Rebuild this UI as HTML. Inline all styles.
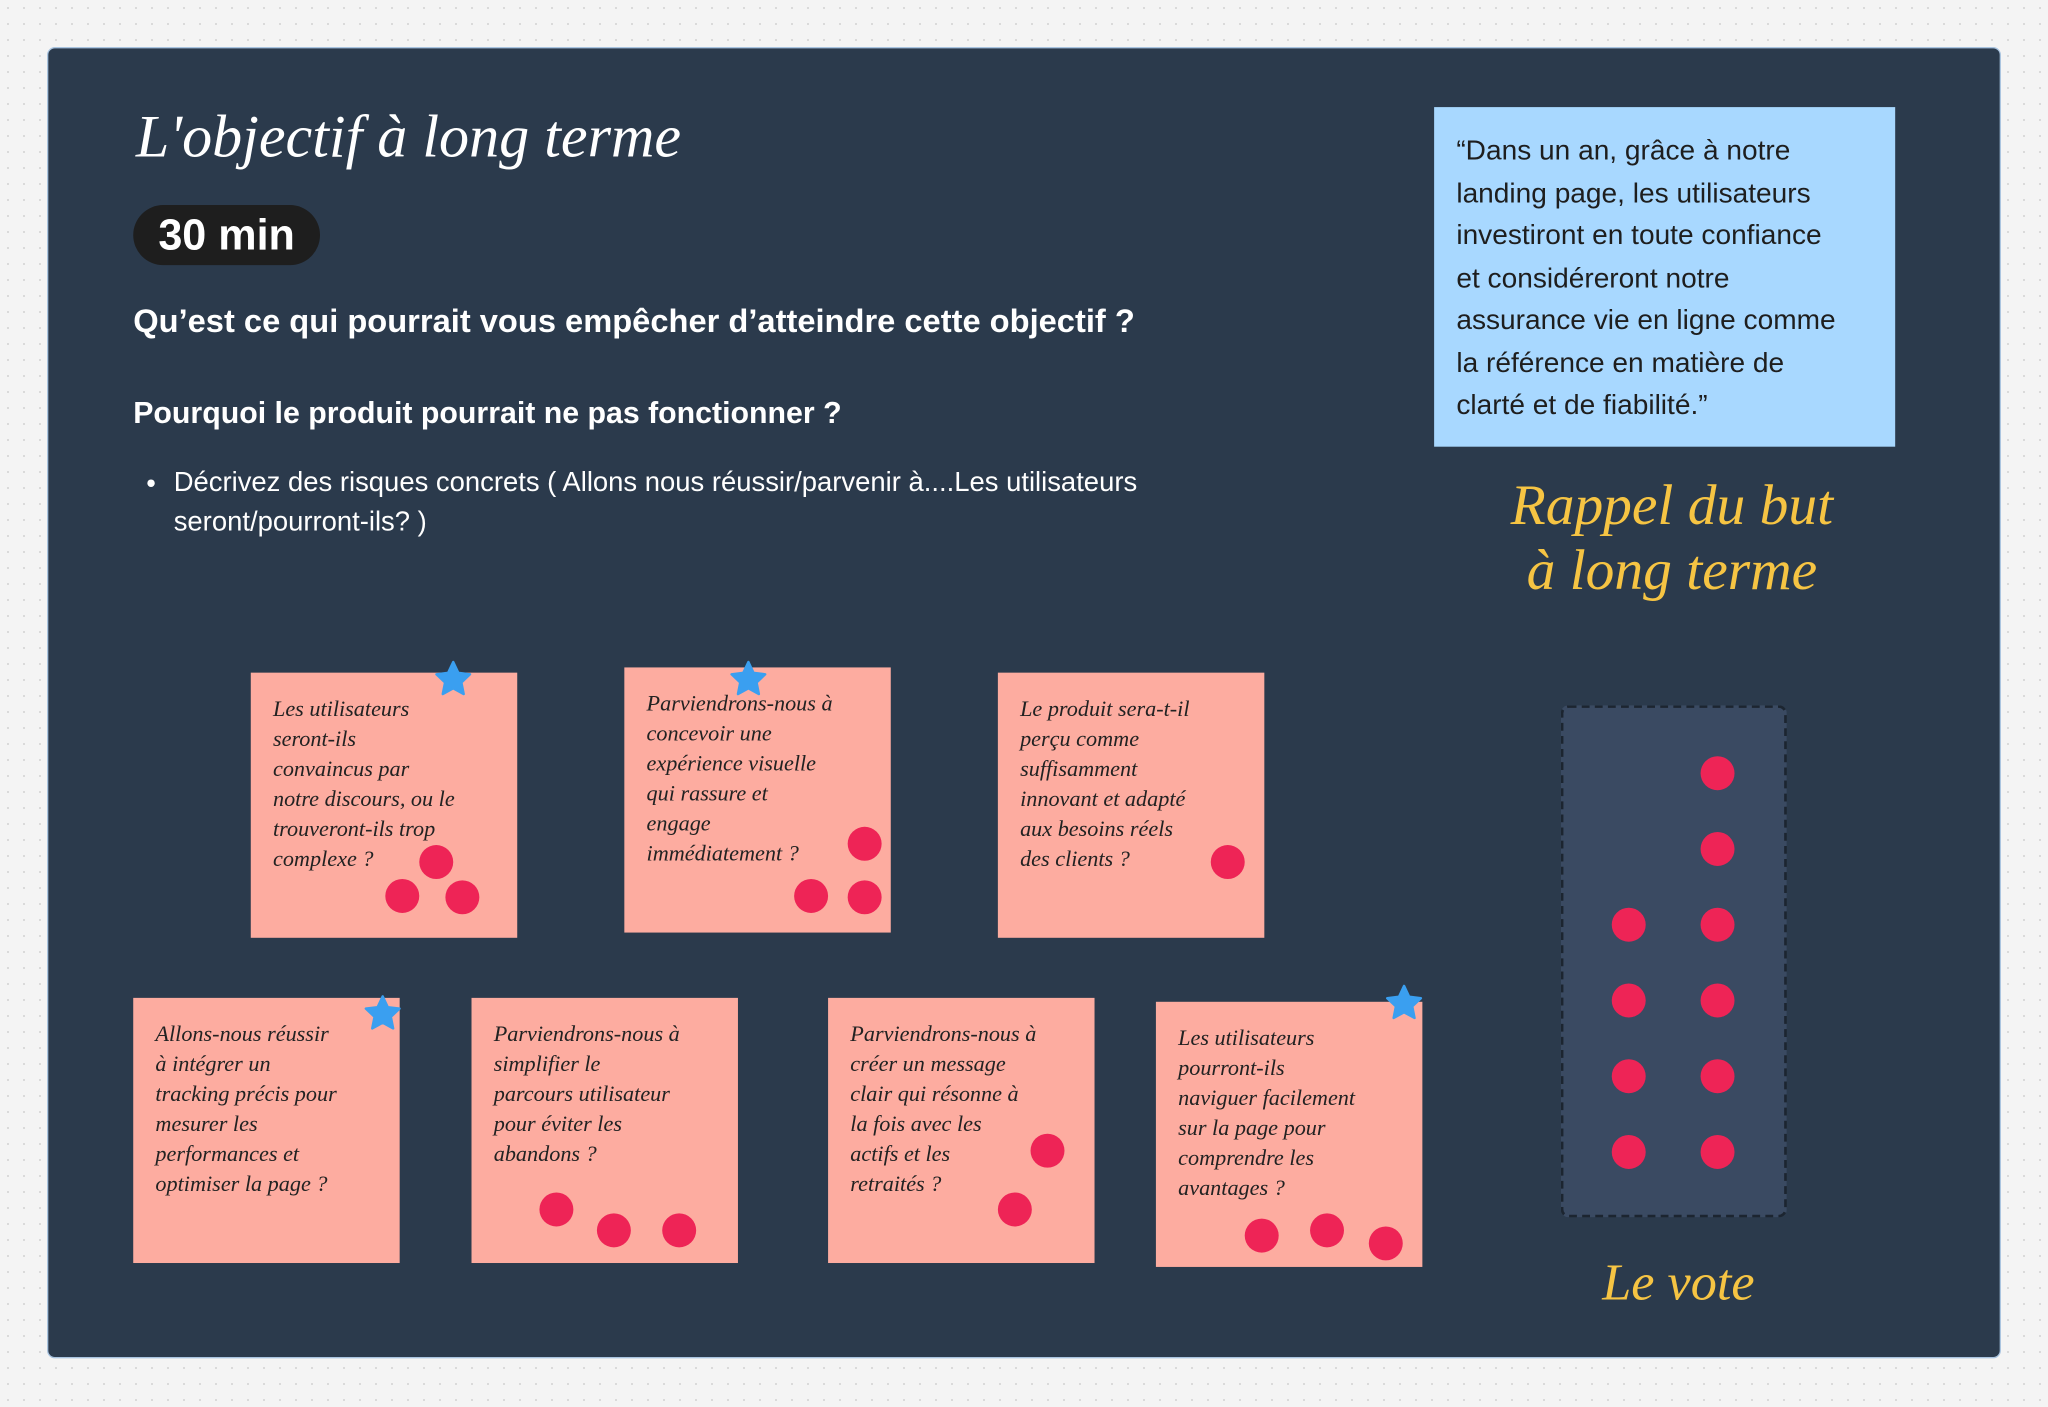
<!DOCTYPE html>
<html><head><meta charset="utf-8">
<style>
html,body{margin:0;padding:0;}
body{width:2048px;height:1407px;overflow:hidden;background:#f4f4f4;
background-image:radial-gradient(#d8d8d8 1px,transparent 1.2px);background-size:16px 16px;}
#s{position:absolute;left:0;top:0;width:1568px;height:1077px;transform:scale(1.30612);transform-origin:0 0;font-family:"Liberation Sans",sans-serif;}
.panel{position:absolute;left:36px;top:36px;width:1496px;height:1004px;background:#2b3a4c;border:1.5px solid #a9c4e0;border-radius:6px;box-sizing:border-box;}
.abs{position:absolute;}
.hand{font-family:"Liberation Serif",serif;font-style:italic;}
.st{position:absolute;width:204px;height:203px;background:#fdaca0;box-sizing:border-box;padding:16px 10px 16px 17px;color:#222;font-family:"Liberation Serif",serif;font-style:italic;font-size:17px;line-height:23px;white-space:nowrap;}
.d{position:absolute;width:26px;height:26px;border-radius:50%;background:#ee2456;margin:-13px 0 0 -13px;}
.star{position:absolute;width:30px;height:30px;margin:-15px 0 0 -15px;}
</style></head><body>
<div id="s">
<div class="panel"></div>
<div class="abs hand" style="left:104px;top:78px;font-size:46px;color:#fff;">L'objectif à long terme</div>
<div class="abs" style="left:102px;top:157px;width:143px;height:46px;border-radius:23px;background:#1e1e1e;color:#fff;font-weight:bold;font-size:33px;line-height:46px;text-align:center;">30 min</div>
<div class="abs" style="left:102px;top:232px;color:#fff;font-weight:bold;font-size:25px;white-space:nowrap;">Qu’est ce qui pourrait vous empêcher d’atteindre cette objectif ?</div>
<div class="abs" style="left:102px;top:303px;color:#fff;font-weight:bold;font-size:23.2px;white-space:nowrap;">Pourquoi le produit pourrait ne pas fonctionner ?</div>
<div class="abs" style="left:112px;top:356px;color:#fff;font-size:21px;line-height:30px;">•</div>
<div class="abs" style="left:133px;top:355px;color:#fff;font-size:21px;line-height:30px;white-space:nowrap;">Décrivez des risques concrets ( Allons nous réussir/parvenir à....Les utilisateurs<br>seront/pourront-ils? )</div>

<div class="abs" style="left:1098px;top:82px;width:353px;height:260px;background:#a8d8ff;box-sizing:border-box;padding:17px 5px 0 17px;color:#1e1e1e;font-size:21.5px;line-height:32.5px;white-space:nowrap;">“Dans un an, grâce à notre<br>landing page, les utilisateurs<br>investiront en toute confiance<br>et considéreront notre<br>assurance vie en ligne comme<br>la référence en matière de<br>clarté et de fiabilité.”</div>
<div class="abs hand" style="left:1080px;top:362px;width:400px;text-align:center;color:#f6c443;font-size:44px;line-height:50px;">Rappel du but<br>à long terme</div>

<div class="abs" style="left:1195px;top:540px;width:173px;height:392px;background:#3a4a62;border:2px dashed #1c2530;border-radius:6px;box-sizing:border-box;"></div>
<div class="abs hand" style="left:1180px;top:958px;width:210px;text-align:center;color:#f6c443;font-size:40px;">Le vote</div>

<div class="st" style="left:192px;top:515px;">Les utilisateurs<br>seront-ils<br>convaincus par<br>notre discours, ou le<br>trouveront-ils trop<br>complexe ?</div>
<div class="st" style="left:478px;top:511px;">Parviendrons-nous à<br>concevoir une<br>expérience visuelle<br>qui rassure et<br>engage<br>immédiatement ?</div>
<div class="st" style="left:764px;top:515px;">Le produit sera-t-il<br>perçu comme<br>suffisamment<br>innovant et adapté<br>aux besoins réels<br>des clients ?</div>
<div class="st" style="left:102px;top:764px;">Allons-nous réussir<br>à intégrer un<br>tracking précis pour<br>mesurer les<br>performances et<br>optimiser la page ?</div>
<div class="st" style="left:361px;top:764px;">Parviendrons-nous à<br>simplifier le<br>parcours utilisateur<br>pour éviter les<br>abandons ?</div>
<div class="st" style="left:634px;top:764px;">Parviendrons-nous à<br>créer un message<br>clair qui résonne à<br>la fois avec les<br>actifs et les<br>retraités ?</div>
<div class="st" style="left:885px;top:767px;">Les utilisateurs<br>pourront-ils<br>naviguer facilement<br>sur la page pour<br>comprendre les<br>avantages ?</div>

<div class="d" style="left:334px;top:660px"></div><div class="d" style="left:308px;top:686px"></div><div class="d" style="left:354px;top:687px"></div>
<div class="d" style="left:662px;top:646px"></div><div class="d" style="left:621px;top:686px"></div><div class="d" style="left:662px;top:687px"></div>
<div class="d" style="left:940px;top:660px"></div>
<div class="d" style="left:426px;top:926px"></div><div class="d" style="left:470px;top:942px"></div><div class="d" style="left:520px;top:942px"></div>
<div class="d" style="left:802px;top:881px"></div><div class="d" style="left:777px;top:926px"></div>
<div class="d" style="left:966px;top:946px"></div><div class="d" style="left:1016px;top:942px"></div><div class="d" style="left:1061px;top:952px"></div>

<div class="d" style="left:1315px;top:592px"></div><div class="d" style="left:1315px;top:650px"></div>
<div class="d" style="left:1247px;top:708px"></div><div class="d" style="left:1315px;top:708px"></div>
<div class="d" style="left:1247px;top:766px"></div><div class="d" style="left:1315px;top:766px"></div>
<div class="d" style="left:1247px;top:824px"></div><div class="d" style="left:1315px;top:824px"></div>
<div class="d" style="left:1247px;top:882px"></div><div class="d" style="left:1315px;top:882px"></div>

<svg class="star" style="left:347px;top:520px" viewBox="0 0 24 24"><path d="M12 1.5l3.1 6.6 7.2.9-5.3 5 1.4 7.1L12 17.6l-6.4 3.5 1.4-7.1-5.3-5 7.2-.9z" fill="#3a9ff0" stroke="#3a9ff0" stroke-linejoin="round" stroke-width="1.5"/></svg>
<svg class="star" style="left:573px;top:520px" viewBox="0 0 24 24"><path d="M12 1.5l3.1 6.6 7.2.9-5.3 5 1.4 7.1L12 17.6l-6.4 3.5 1.4-7.1-5.3-5 7.2-.9z" fill="#3a9ff0" stroke="#3a9ff0" stroke-linejoin="round" stroke-width="1.5"/></svg>
<svg class="star" style="left:293px;top:776px" viewBox="0 0 24 24"><path d="M12 1.5l3.1 6.6 7.2.9-5.3 5 1.4 7.1L12 17.6l-6.4 3.5 1.4-7.1-5.3-5 7.2-.9z" fill="#3a9ff0" stroke="#3a9ff0" stroke-linejoin="round" stroke-width="1.5"/></svg>
<svg class="star" style="left:1075px;top:768px" viewBox="0 0 24 24"><path d="M12 1.5l3.1 6.6 7.2.9-5.3 5 1.4 7.1L12 17.6l-6.4 3.5 1.4-7.1-5.3-5 7.2-.9z" fill="#3a9ff0" stroke="#3a9ff0" stroke-linejoin="round" stroke-width="1.5"/></svg>
</div>
</body></html>
